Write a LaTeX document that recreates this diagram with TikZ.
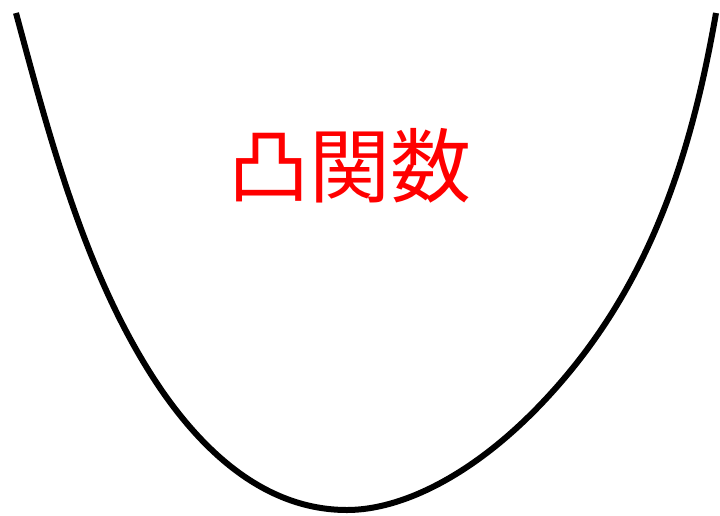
\documentclass[tikz,border=0pt]{standalone}
\usepackage{fontspec}
\newfontfamily\cjk{Noto Sans CJK JP}
\usepackage{xcolor}
\definecolor{labelred}{HTML}{FF0000}

\begin{document}
\begin{tikzpicture}[
  x=1pt, y=-1pt,
  curve/.style={draw=black, line width=6pt},
  lbl/.style={text=labelred, font=\cjk\fontsize{81}{81}\selectfont, inner sep=0pt}
]
\useasboundingbox (0,0) rectangle (720,515);
% convex curve
\coordinate (top left) at (16,13);
\coordinate (left) at (160,388);
\coordinate (bottom) at (347,510);
\coordinate (right) at (543,402);
\coordinate (top right) at (716,13);
\draw[curve] (top left) .. controls (51,143) and (87,280) .. (left)
  .. controls (205,454) and (267,510) .. (bottom)
  .. controls (402,510) and (474,475) .. (right)
  .. controls (647,292) and (690,162) .. (top right);
\node[lbl] (title) at (350,166) {凸関数};
\end{tikzpicture}
\end{document}
